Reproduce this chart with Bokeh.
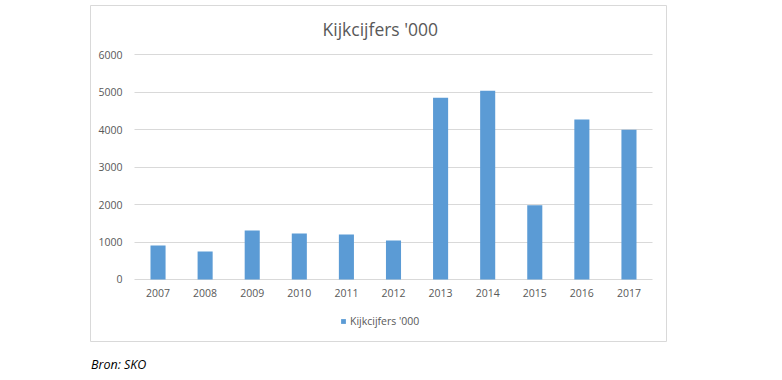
from bokeh.plotting import figure
from bokeh.models import (Range1d, Legend, LegendItem, Label, FixedTicker, Div)
from bokeh.layouts import column
from bokeh.embed import file_html
from bokeh.resources import INLINE

# ---- data ----
years = ["2007", "2008", "2009", "2010", "2011", "2012",
         "2013", "2014", "2015", "2016", "2017"]
viewers = [910, 750, 1310, 1230, 1200, 1040, 4850, 5040, 1980, 4270, 4000]
y_ticks = [0, 1000, 2000, 3000, 4000, 5000, 6000]
chart_title = "Kijkcijfers '000"
series_name = "Kijkcijfers '000"
source_note = "Bron: SKO"

FONT = "Open Sans"
TXT = "#595959"
GRID = "#D9D9D9"
BAR = "#5B9BD5"

positions = list(range(len(years)))

# The frame is the chart's bordered box; axes are fixed inside it.
p = figure(width=770, height=366,
           x_range=Range1d(-1.434, 10.797),
           y_range=Range1d(-1656, 7316),
           output_backend="svg", toolbar_location=None,
           min_border_left=90, min_border_right=104,
           min_border_top=5, min_border_bottom=25)

r = p.vbar(x=positions, top=viewers, width=0.32, fill_color=BAR,
           line_color=None)

p.outline_line_color = GRID
p.outline_line_width = 1
p.background_fill_color = "white"
p.border_fill_color = "white"

p.xaxis.ticker = FixedTicker(ticks=positions)
p.xaxis.major_label_overrides = {i: y for i, y in zip(positions, years)}
p.xaxis.fixed_location = 0
p.yaxis.ticker = FixedTicker(ticks=y_ticks)
p.yaxis.fixed_location = -0.5

for ax in (p.xaxis, p.yaxis):
    ax.axis_line_color = None
    ax.major_tick_line_color = None
    ax.minor_tick_line_color = None
    ax.major_tick_out = 0
    ax.major_tick_in = 0
    ax.minor_tick_out = 0
    ax.minor_tick_in = 0
    ax.major_label_text_font = FONT
    ax.major_label_text_font_size = "10.5px"
    ax.major_label_text_color = TXT
p.yaxis.major_label_standoff = 12
p.xaxis.major_label_standoff = 10

p.xgrid.grid_line_color = None
yg = p.ygrid[0]
if "cross_bounds" in yg.properties():
    yg.cross_bounds = (-0.5, 10.5)
    yg.grid_line_color = GRID
    yg.grid_line_width = 1
else:
    yg.grid_line_color = None
    p.segment(x0=[-0.5] * len(y_ticks), x1=[10.5] * len(y_ticks),
              y0=y_ticks, y1=y_ticks, line_color=GRID, line_width=1,
              level="underlay")

p.add_layout(Label(x=4.72, y=6700, text=chart_title, text_align="center",
                   text_baseline="alphabetic", text_font=FONT,
                   text_font_size="17.5px", text_color=TXT))

legend = Legend(items=[LegendItem(label=series_name, renderers=[r])],
                location=(250, 13), orientation="horizontal",
                glyph_width=6, glyph_height=6, label_height=12,
                label_standoff=4, padding=0, margin=0, spacing=0,
                border_line_color=None, background_fill_alpha=0,
                label_text_font=FONT, label_text_font_size="10.5px",
                label_text_color=TXT)
p.add_layout(legend, "center")

note = Div(text=source_note, margin=(-10, 0, 0, 91),
           styles={"font-family": FONT, "font-style": "italic",
                   "font-size": "12.5px", "color": "#000000"})

layout = column(p, note)

open("out.html", "w").write(file_html(layout, INLINE))
